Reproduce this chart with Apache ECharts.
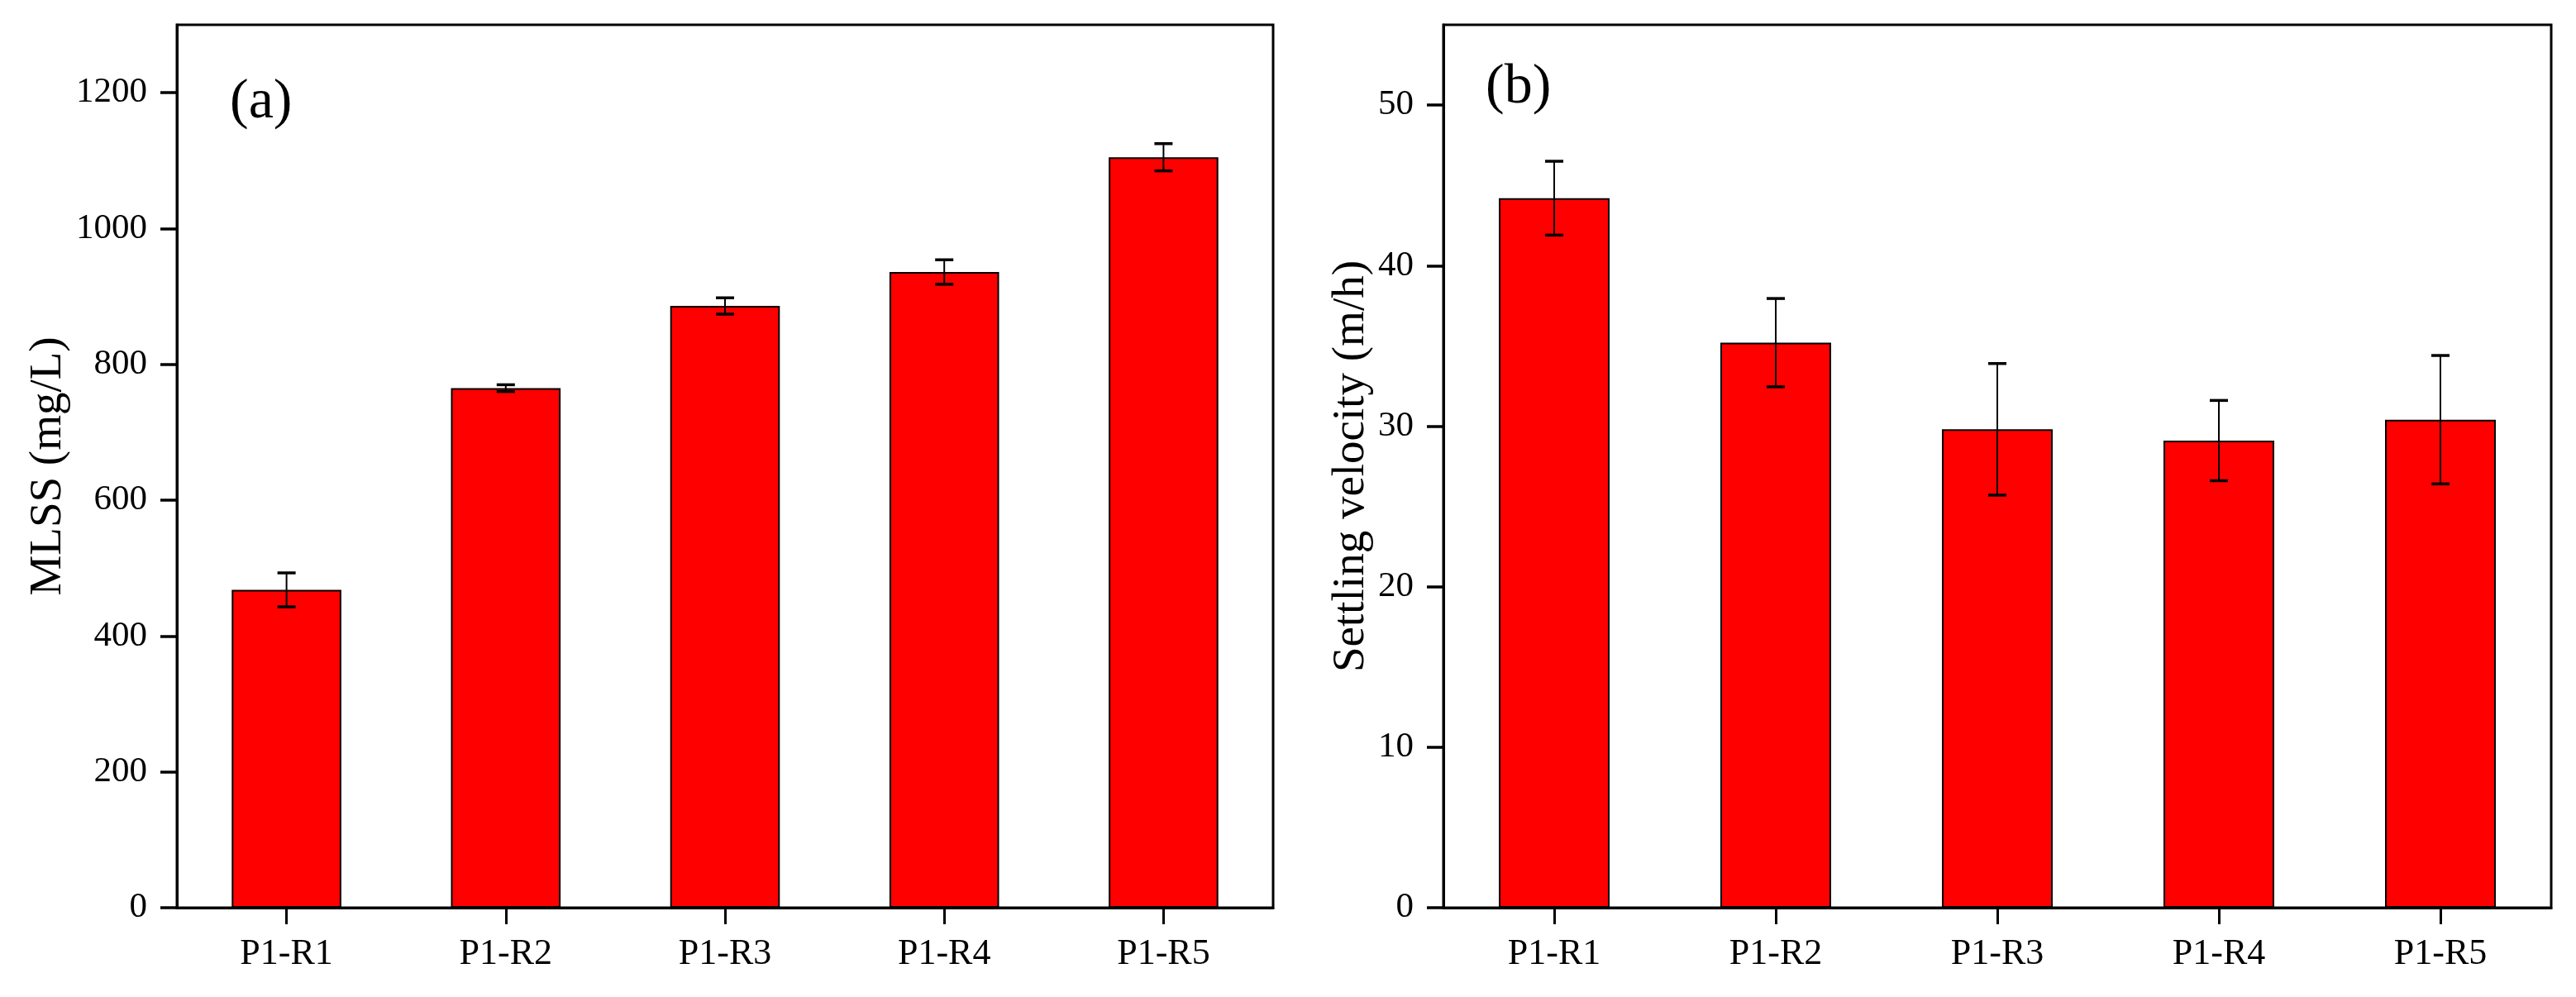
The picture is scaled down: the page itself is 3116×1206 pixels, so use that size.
<!DOCTYPE html>
<html>
<head>
<meta charset="utf-8">
<script src="https://cdn.jsdelivr.net/npm/echarts@6/dist/echarts.min.js"></script>
<style>
html,body{margin:0;padding:0;background:#fff;}
#chart{width:3116px;height:1206px;}
</style>
</head>
<body>
<div id="chart"></div>
<script>
// ---- data ----
const categories = ['P1-R1', 'P1-R2', 'P1-R3', 'P1-R4', 'P1-R5'];
const mlssMean = [468, 765, 886, 936, 1105];
const mlssErr = [25, 5, 12, 18, 20];
const velMean = [44.2, 35.2, 29.8, 29.1, 30.4];
const velErr = [2.3, 2.75, 4.1, 2.5, 4.0];
const mlssTicks = [0, 200, 400, 600, 800, 1000, 1200];
const velTicks = [0, 10, 20, 30, 40, 50];

const FONT = '"Liberation Serif", "Times New Roman", serif';

function errData(mean, err) {
  return mean.map((m, i) => [i, m + err[i], m - err[i]]);
}

function renderErr(params, api) {
  const x = api.value(0);
  const top = api.coord([x, api.value(1)]);
  const bot = api.coord([x, api.value(2)]);
  const half = 11;
  const st = { stroke: '#000', lineWidth: 2 };
  const cap = { stroke: '#000', lineWidth: 3.5 };
  return {
    type: 'group',
    children: [
      { type: 'line', shape: { x1: top[0], y1: top[1], x2: bot[0], y2: bot[1] }, style: st },
      { type: 'line', shape: { x1: top[0] - half, y1: top[1], x2: top[0] + half, y2: top[1] }, style: cap },
      { type: 'line', shape: { x1: bot[0] - half, y1: bot[1], x2: bot[0] + half, y2: bot[1] }, style: cap }
    ]
  };
}

function xAxisCfg(gridIndex) {
  return {
    type: 'category', gridIndex, data: categories,
    boundaryGap: true,
    axisLine: { show: true, lineStyle: { color: '#000', width: 3 } },
    axisTick: { show: true, alignWithLabel: true, length: 20, lineStyle: { color: '#000', width: 3 } },
    axisLabel: { color: '#000', fontFamily: FONT, fontSize: 44, margin: 34 },
    splitLine: { show: false }
  };
}

function yAxisCfg(gridIndex, max, ticks, name, nameSize, nameGap) {
  return {
    type: 'value', gridIndex, min: 0, max: max,
    name: name, nameLocation: 'middle', nameGap: nameGap,
    nameTextStyle: { color: '#000', fontFamily: FONT, fontSize: nameSize },
    axisLine: { show: true, lineStyle: { color: '#000', width: 3 } },
    axisTick: { show: true, length: 20, customValues: ticks, lineStyle: { color: '#000', width: 3.5 } },
    axisLabel: { color: '#000', fontFamily: FONT, fontSize: 43, margin: 36, customValues: ticks,
      formatter: v => String(v) },
    splitLine: { show: false }
  };
}

const chart = echarts.init(document.getElementById('chart'), null, { renderer: 'canvas' });
chart.setOption({
  animation: false,
  backgroundColor: '#fff',
  grid: [
    { left: 214, right: 1576, top: 30, bottom: 108, show: true, borderColor: '#000', borderWidth: 3, backgroundColor: 'transparent', containLabel: false },
    { left: 1746, right: 30, top: 30, bottom: 108, show: true, borderColor: '#000', borderWidth: 3, backgroundColor: 'transparent', containLabel: false }
  ],
  xAxis: [xAxisCfg(0), xAxisCfg(1)],
  yAxis: [
    yAxisCfg(0, 1300, mlssTicks, 'MLSS (mg/L)', 55, 128),
    yAxisCfg(1, 55, velTicks, 'Settling velocity (m/h)', 55, 84)
  ],
  series: [
    { type: 'bar', xAxisIndex: 0, yAxisIndex: 0, data: mlssMean, barWidth: '50%',
      itemStyle: { color: '#FF0000', borderColor: '#000', borderWidth: 2 } },
    { type: 'custom', xAxisIndex: 0, yAxisIndex: 0, data: errData(mlssMean, mlssErr), renderItem: renderErr, z: 5 },
    { type: 'bar', xAxisIndex: 1, yAxisIndex: 1, data: velMean, barWidth: '50%',
      itemStyle: { color: '#FF0000', borderColor: '#000', borderWidth: 2 } },
    { type: 'custom', xAxisIndex: 1, yAxisIndex: 1, data: errData(velMean, velErr), renderItem: renderErr, z: 5 }
  ],
  graphic: [
    { type: 'text', left: 278, top: 90, style: { text: '(a)', fontFamily: FONT, fontSize: 68, fill: '#000' } },
    { type: 'text', left: 1797, top: 72, style: { text: '(b)', fontFamily: FONT, fontSize: 68, fill: '#000' } }
  ]
});
</script>
</body>
</html>
